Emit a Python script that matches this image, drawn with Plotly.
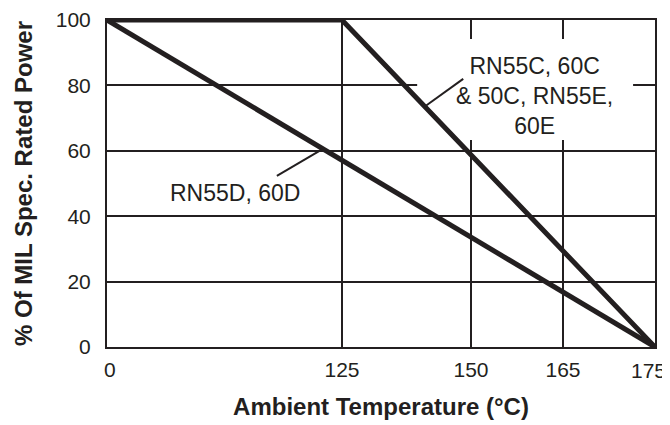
import numpy as np
import plotly.graph_objects as go

# ---- data ----
tick_temps = [0, 125, 150, 165, 175]          # x tick labels (°C)
tick_labels = ["0", "125", "150", "165", "175"]
tick_pos = [0, 42.88, 66.42, 83.21, 100]       # axis positions of those temps (non-uniform scale)

temps_C = [0, 125, 175]       # RN55C, 60C & 50C, RN55E, 60E
power_C = [100, 100, 0]
temps_D = [0, 175]            # RN55D, 60D
power_D = [100, 0]

y_ticks = [0, 20, 40, 60, 80, 100]

INK = "#231f20"
FONT = "Liberation Sans, Arial, Helvetica, sans-serif"


def xpos(t):
    return np.interp(t, tick_temps, tick_pos)


fig = go.Figure()
fig.add_trace(go.Scatter(x=xpos(temps_C), y=power_C, mode="lines",
                         line=dict(color=INK, width=5), hoverinfo="skip",
                         showlegend=False))
fig.add_trace(go.Scatter(x=xpos(temps_D), y=power_D, mode="lines",
                         line=dict(color=INK, width=5), hoverinfo="skip",
                         showlegend=False))

# white box behind the C/E label (covers gridlines, stays under data lines)
fig.add_shape(type="rect", xref="x", yref="y", x0=56.6, x1=96.0, y0=63.3, y1=94.2,
              fillcolor="white", line=dict(width=0), layer="between")

# leader lines
c_end_x = 58.0
c_end_y = float(np.interp(c_end_x, xpos(temps_C), power_C))
fig.add_shape(type="line", xref="x", yref="y", x0=65.0, y0=82.0, x1=c_end_x, y1=c_end_y,
              line=dict(color=INK, width=2), layer="above")
d_end_x = 39.4
d_end_y = float(np.interp(d_end_x, xpos(temps_D), power_D))
fig.add_shape(type="line", xref="x", yref="y", x0=31.0, y0=52.3, x1=d_end_x, y1=d_end_y,
              line=dict(color=INK, width=2), layer="above")

fig.add_annotation(x=78.0, y=76.8, xref="x", yref="y",
                   text="RN55C, 60C<br>&amp; 50C, RN55E,<br>60E", showarrow=False,
                   font=dict(family=FONT, size=23, color=INK), align="center")
fig.add_annotation(x=23.4, y=47.1, xref="x", yref="y",
                   text="RN55D, 60D", showarrow=False,
                   font=dict(family=FONT, size=23, color=INK), align="center")

# last x tick label, nudged inward from the right edge as in the reference
fig.add_annotation(x=tick_pos[-1], y=y_ticks[0], xref="x", yref="y",
                   text=tick_labels[-1], showarrow=False,
                   xanchor="center", yanchor="top", xshift=-7, yshift=-10,
                   font=dict(family=FONT, size=21, color=INK))

axis_common = dict(
    showgrid=True, gridcolor=INK, gridwidth=2,
    showline=True, linecolor=INK, linewidth=2, mirror=True,
    zeroline=False, ticks="outside", tickcolor="rgba(0,0,0,0)",
    tickfont=dict(family=FONT, size=21, color=INK),
    fixedrange=True, automargin=False,
)

x_ticktext = ["&nbsp;" + tick_labels[0]] + tick_labels[1:-1] + [""]

# the page body has an 8px margin, so the figure is sized/offset to fit the window
fig.update_layout(
    width=662, height=417,
    margin=dict(l=99, r=15, t=12, b=78),
    paper_bgcolor="white", plot_bgcolor="white",
    font=dict(family=FONT, color=INK),
    xaxis=dict(range=[0, 100], tickmode="array", tickvals=tick_pos,
               ticktext=x_ticktext, ticklen=3,
               title=dict(text="<b>Ambient Temperature (°C)</b>", standoff=18,
                          font=dict(family=FONT, size=24, color=INK)),
               **axis_common),
    yaxis=dict(range=[0, 100], tickmode="array", tickvals=y_ticks,
               ticktext=[str(v) for v in y_ticks], ticklen=10,
               title=dict(text="<b>% Of MIL Spec. Rated Power</b>", standoff=16,
                          font=dict(family=FONT, size=24, color=INK)),
               **axis_common),
)

fig.write_html("out.html")
